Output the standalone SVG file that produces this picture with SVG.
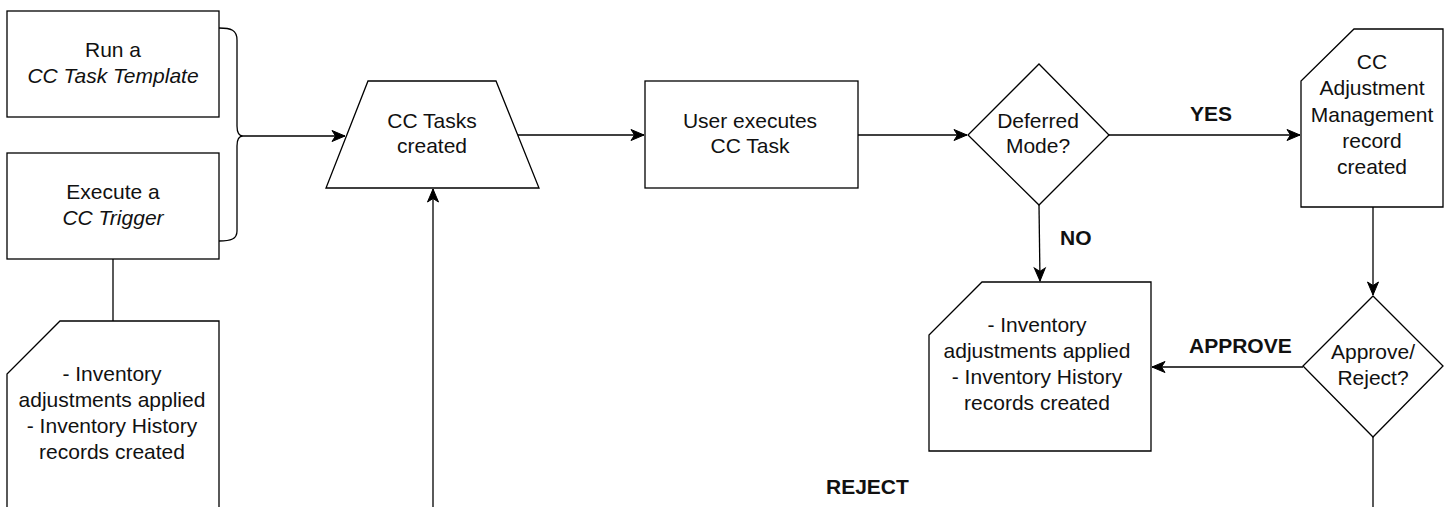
<svg xmlns="http://www.w3.org/2000/svg" width="1449" height="507" viewBox="0 0 1449 507">
<style>
.s{fill:#fff;stroke:#000;stroke-width:1.3}
.c{fill:none;stroke:#000;stroke-width:1.3}
.t{font-family:"Liberation Sans",Arial,Helvetica,sans-serif;font-size:21px;fill:#111;text-anchor:middle}
.i{font-style:italic}
.b{font-family:"Liberation Sans",Arial,Helvetica,sans-serif;font-size:21px;font-weight:bold;fill:#111}
</style>
<defs>
<marker id="ah" markerUnits="userSpaceOnUse" markerWidth="14" markerHeight="12" refX="13" refY="6" orient="auto" overflow="visible">
<path d="M0,0.5 L13,6 L0,11.5 L3.5,6 Z" fill="#000" stroke="#000" stroke-width="1"/>
</marker>
</defs>
<rect width="1449" height="507" fill="#fff"/>

<g id="connectors">
<path class="c" d="M219,28 C231,28 237,30 237,40 L237,126 C237,132 239,136 243,136 C239,136 237,140 237,146 L237,231 C237,239 231,241 219,241"/>
<path class="c" d="M243,136 L345,136" marker-end="url(#ah)"/>
<path class="c" d="M113,259 L113,321"/>
<path class="c" d="M433,510 L433,189" marker-end="url(#ah)"/>
<path class="c" d="M518,135 L644,135" marker-end="url(#ah)"/>
<path class="c" d="M858,135 L967,135" marker-end="url(#ah)"/>
<path class="c" d="M1109,135 L1300,135" marker-end="url(#ah)"/>
<path class="c" d="M1039,205 L1040,281" marker-end="url(#ah)"/>
<path class="c" d="M1373,207 L1373,295" marker-end="url(#ah)"/>
<path class="c" d="M1303,367 L1152,367" marker-end="url(#ah)"/>
<path class="c" d="M1373,437 L1373,510"/>
<text class="b" x="1211" y="121" text-anchor="middle">YES</text>
<text class="b" x="1060" y="245">NO</text>
<text class="b" x="1189" y="353">APPROVE</text>
<text class="b" x="826" y="494">REJECT</text>
</g>

<g id="run-template">
<rect class="s" x="7" y="11" width="212" height="106"/>
<text class="t" x="113" y="57">Run a</text>
<text class="t i" x="113" y="83">CC Task Template</text>
</g>

<g id="execute-trigger">
<rect class="s" x="7" y="153" width="212" height="106"/>
<text class="t" x="113" y="199">Execute a</text>
<text class="t i" x="113" y="225">CC Trigger</text>
</g>

<g id="inventory-left">
<path class="s" d="M60,321 L219,321 L219,512 L7,512 L7,374 Z"/>
<text class="t" x="112" y="381">- Inventory</text>
<text class="t" x="112" y="407">adjustments applied</text>
<text class="t" x="112" y="433">- Inventory History</text>
<text class="t" x="112" y="459">records created</text>
</g>

<g id="tasks-created">
<path class="s" d="M368,81 L496,81 L539,188 L326,188 Z"/>
<text class="t" x="432" y="128">CC Tasks</text>
<text class="t" x="432" y="153">created</text>
</g>

<g id="user-executes">
<rect class="s" x="645" y="81" width="213" height="107"/>
<text class="t" x="750" y="128">User executes</text>
<text class="t" x="750" y="153">CC Task</text>
</g>

<g id="deferred-mode">
<path class="s" d="M1039,64 L1109,135 L1039,205 L968,135 Z"/>
<text class="t" x="1038" y="128">Deferred</text>
<text class="t" x="1038" y="153">Mode?</text>
</g>

<g id="adjustment-record">
<path class="s" d="M1354,29 L1443,29 L1443,207 L1301,207 L1301,81 Z"/>
<text class="t" x="1372" y="69">CC</text>
<text class="t" x="1372" y="95">Adjustment</text>
<text class="t" x="1372" y="122">Management</text>
<text class="t" x="1372" y="148">record</text>
<text class="t" x="1372" y="174">created</text>
</g>

<g id="inventory-middle">
<path class="s" d="M982,282 L1151,282 L1151,451 L929,451 L929,335 Z"/>
<text class="t" x="1037" y="332">- Inventory</text>
<text class="t" x="1037" y="358">adjustments applied</text>
<text class="t" x="1037" y="384">- Inventory History</text>
<text class="t" x="1037" y="410">records created</text>
</g>

<g id="approve-reject">
<path class="s" d="M1373,296 L1443,366 L1373,437 L1303,366 Z"/>
<text class="t" x="1373" y="359">Approve/</text>
<text class="t" x="1373" y="385">Reject?</text>
</g>
</svg>
